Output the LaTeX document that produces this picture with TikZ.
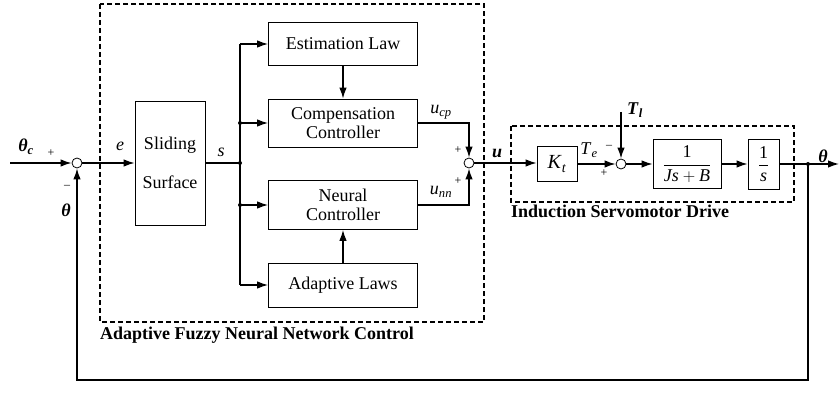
\documentclass[tikz,border=0pt]{standalone}
\usepackage{amsmath}
\usepackage{fontspec}
\setmainfont{Liberation Serif}
\usetikzlibrary{arrows.meta}
\definecolor{diagramink}{HTML}{000000}

\begin{document}
\begin{tikzpicture}[x=1pt, y=-1pt, >={Latex[length=11pt,width=7.5pt]},
    every node/.style={diagramink},
    block/.style={draw, line width=0.7pt, inner sep=0pt, align=center,
                  font=\fontsize{18}{19}\selectfont},
    sumnode/.style={draw, circle, line width=0.8pt, minimum size=10pt, inner sep=0pt},
    sig/.style={line width=1.4pt},
    frame/.style={line width=1.4pt, dash pattern=on 5pt off 3pt},
    tag/.style={font=\fontsize{18}{20}\bfseries\selectfont},
    sgn/.style={font=\fontsize{12}{12}\selectfont},
    lbl/.style={font=\fontsize{18}{20}\selectfont}]

  \useasboundingbox (0,0) rectangle (840,395);

  %% frames of the two sub-systems
  \draw[frame] (100,4) rectangle (484,322);
  \node[tag, anchor=north west, inner sep=0pt] (ctrltag) at (100,327) {Adaptive Fuzzy Neural Network Control};
  \draw[frame] (511,126) rectangle (794,202);
  \node[tag, anchor=north west, inner sep=0pt] (drivetag) at (511,205) {Induction Servomotor Drive};

  %% input and error sum
  \coordinate (thin) at (10,163);
  \node[sumnode] (sumA) at (77,163) {};
  \node[lbl] (thc) at (26,147) {\textbf{\textit{θ}}\textsubscript{\textbf{\textit{c}}}};
  \node[sgn] at (51,153) {+};
  \node[sgn] at (67,187) {–};
  \node[lbl] (thfb) at (66,210) {\textbf{\textit{θ}}};

  %% sliding surface
  \node[block, minimum width=70pt, minimum height=124pt] (slide) at (170,163)
    {Sliding\\[20pt]Surface};
  \node[lbl] at (120,146) {\textit{e}};
  \coordinate (jsplit) at (240,163);
  \node[lbl] at (221,152) {\textit{s}};

  %% controller blocks
  \node[block, minimum width=149pt, minimum height=43pt] (est) at (343,44) {Estimation Law};
  \node[block, minimum width=149pt, minimum height=48pt] (comp) at (343,123)
    {Compensation\\Controller};
  \node[block, minimum width=149pt, minimum height=49pt] (neural) at (343,205)
    {Neural\\Controller};
  \node[block, minimum width=149pt, minimum height=44pt] (adapt) at (343,285) {Adaptive Laws};

  \node[sumnode] (sumB) at (469,163) {};
  \node[lbl] at (441,112) {\textit{u}\textsubscript{\textit{cp}}};
  \node[lbl] at (441,192) {\textit{u}\textsubscript{\textit{nn}}};
  \node[sgn] at (458,150) {+};
  \node[sgn] at (458,181) {+};
  \node[lbl] at (497,153) {\textbf{\textit{u}}};

  %% servomotor drive
  \node[block, minimum width=40pt, minimum height=35pt, font=\fontsize{20}{22}\selectfont]
    (kt) at (557,164) {\textit{K}\textsubscript{\textit{t}}};
  \node[sumnode] (sumC) at (621,164) {};
  \coordinate (tl) at (621,112);
  \node[lbl] at (589,150) {\textit{T}\textsubscript{\textit{e}}};
  \node[lbl] at (635,110) {\textbf{\textit{T}}\textsubscript{\textbf{\textit{l}}}};
  \node[sgn] at (609,147) {–};
  \node[sgn] at (604,173) {+};
  \node[block, minimum width=68pt, minimum height=49pt] (plant) at (687,164)
    {$\dfrac{\text{1}}{\text{\textit{Js}}+\text{\textit{B}}}$};
  \node[block, minimum width=31pt, minimum height=50pt] (integ) at (763.5,164)
    {$\dfrac{\text{1}}{\text{\textit{s}}}$};
  \coordinate (jout) at (808,164);
  \coordinate (out) at (839,164);
  \coordinate (fbR) at (808,380);
  \node[lbl] at (823,156) {\textbf{\textit{θ}}};

  %% connectors
  \draw[sig,->] (thin) -- (sumA);
  \draw[sig,->] (sumA) -- (slide);
  \draw[sig] (slide) -- (jsplit);
  \draw[sig] (jsplit |- est) -- (jsplit |- adapt);
  \draw[sig,->] (jsplit |- est) -- (est);
  \draw[sig,->] (jsplit |- comp) -- (comp);
  \draw[sig,->] (jsplit |- neural) -- (neural);
  \draw[sig,->] (jsplit |- adapt) -- (adapt);
  \fill (jsplit) circle (2pt) (jsplit |- comp) circle (2pt) (jsplit |- neural) circle (2pt);
  \draw[sig,->] (est) -- (comp);
  \draw[sig,->] (adapt) -- (neural);
  \draw[sig,->] (comp.east) -| (sumB);
  \draw[sig,->] (neural.east) -| (sumB);
  \draw[sig,->] (sumB) -- (sumB -| kt.west);
  \draw[sig,->] (kt) -- (sumC);
  \draw[sig,->] (tl) -- (sumC);
  \draw[sig,->] (sumC) -- (plant);
  \draw[sig,->] (plant) -- (integ);
  \draw[sig,->] (integ) -- (out);
  \fill (jout) circle (2pt);
  \draw[sig,->] (jout) -- (fbR) -| (sumA);

\end{tikzpicture}
\end{document}
